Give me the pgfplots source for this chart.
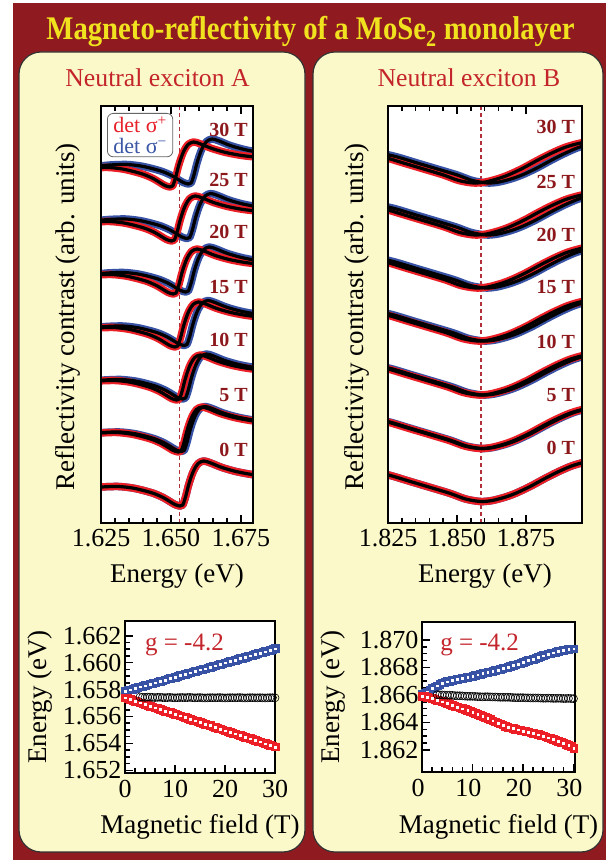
\documentclass[border=0pt]{standalone}
\usepackage{graphicx}
\usepackage{pgfplots}
\usepackage{pgfplotstable}
\pgfplotsset{compat=1.18}
\usepackage{fontspec}
\setmainfont{Liberation Serif}

\definecolor{framered}{RGB}{143,27,32}
\definecolor{titleyellow}{RGB}{240,226,30}
\definecolor{panelfill}{RGB}{251,248,202}
\definecolor{headred}{RGB}{196,37,44}
\definecolor{fieldred}{RGB}{140,24,28}
\definecolor{datared}{RGB}{236,30,38}
\definecolor{datablue}{RGB}{55,82,165}
\definecolor{dashred}{RGB}{178,48,58}
\definecolor{legred}{RGB}{232,32,42}
\definecolor{legblue}{RGB}{59,87,166}

\newcommand{\fs}[1]{\fontsize{#1}{#1}\selectfont}

% ---------- exciton A spectra: columns Er ur (sigma+), Eb ub (sigma-) ----------
\pgfplotstableread{
Er ur Eb ub
1.6202 34.5 1.6202 34.5
1.6252 36 1.6252 36
1.6312 36.5 1.6312 36.5
1.6362 35 1.6362 35
1.6402 32.5 1.6402 32.5
1.6439 29.5 1.6439 29.5
1.6472 25.5 1.6472 25.5
1.6496 21.5 1.6496 21.5
1.6514 18.5 1.6514 18.5
1.6532 17 1.6532 17
1.6542 18 1.6542 18
1.6552 26 1.6552 26
1.6562 37 1.6562 37
1.6572 46 1.6572 46
1.6582 53 1.6582 53
1.6597 59.5 1.6597 59.5
1.6617 62 1.6617 62
1.6642 60 1.6642 60
1.6682 55.5 1.6682 55.5
1.6732 51.5 1.6732 51.5
1.6789 48.5 1.6789 48.5
1.6852 46.5 1.6852 46.5
}\Azero
\pgfplotstableread{
Er ur Eb ub
1.6196 88.5 1.6207 89
1.6246 90 1.6257 90.5
1.6306 90.5 1.6317 91
1.6356 89 1.6367 89.5
1.6396 86.5 1.6407 87
1.6433 83.5 1.6444 84
1.6466 79.5 1.6477 80
1.6490 75.5 1.6501 76
1.6508 72.5 1.6519 73
1.6526 71 1.6537 71.5
1.6536 72 1.6547 72.5
1.6546 80 1.6557 80.5
1.6556 91 1.6567 91.5
1.6566 100 1.6577 100.5
1.6576 107 1.6587 107.5
1.6591 113.5 1.6602 114
1.6611 116 1.6622 116.5
1.6636 114 1.6647 114.5
1.6676 109.5 1.6687 110
1.6726 105.5 1.6737 106
1.6783 102.5 1.6794 103
1.6846 100.5 1.6857 101
}\Afive
\pgfplotstableread{
Er ur Eb ub
1.6190 140.5 1.6212 141.5
1.6240 142 1.6262 143
1.6300 142.5 1.6322 143.5
1.6350 141 1.6372 142
1.6390 138.5 1.6412 139.5
1.6427 135.5 1.6449 136.5
1.6460 131.5 1.6482 132.5
1.6484 127.5 1.6506 128.5
1.6502 124.5 1.6524 125.5
1.6520 123 1.6542 124
1.6530 124 1.6552 125
1.6540 132 1.6562 133
1.6550 143 1.6572 144
1.6560 152 1.6582 153
1.6570 159 1.6592 160
1.6585 165.5 1.6607 166.5
1.6605 168 1.6627 169
1.6630 166 1.6652 167
1.6670 161.5 1.6692 162.5
1.6720 157.5 1.6742 158.5
1.6777 154.5 1.6799 155.5
1.6840 152.5 1.6862 153.5
}\Aten
\pgfplotstableread{
Er ur Eb ub
1.6184 193.5 1.6217 195
1.6234 195 1.6267 196.5
1.6294 195.5 1.6327 197
1.6344 194 1.6377 195.5
1.6384 191.5 1.6417 193
1.6421 188.5 1.6454 190
1.6454 184.5 1.6487 186
1.6478 180.5 1.6511 182
1.6496 177.5 1.6529 179
1.6514 176 1.6547 177.5
1.6524 177 1.6557 178.5
1.6534 185 1.6567 186.5
1.6544 196 1.6577 197.5
1.6554 205 1.6587 206.5
1.6564 212 1.6597 213.5
1.6579 218.5 1.6612 220
1.6599 221 1.6632 222.5
1.6624 219 1.6657 220.5
1.6664 214.5 1.6697 216
1.6714 210.5 1.6747 212
1.6771 207.5 1.6804 209
1.6834 205.5 1.6867 207
}\Afifteen
\pgfplotstableread{
Er ur Eb ub
1.6178 246.5 1.6222 248.5
1.6228 248 1.6272 250
1.6288 248.5 1.6332 250.5
1.6338 247 1.6382 249
1.6378 244.5 1.6422 246.5
1.6415 241.5 1.6459 243.5
1.6448 237.5 1.6492 239.5
1.6472 233.5 1.6516 235.5
1.6490 230.5 1.6534 232.5
1.6508 229 1.6552 231
1.6518 230 1.6562 232
1.6528 238 1.6572 240
1.6538 249 1.6582 251
1.6548 258 1.6592 260
1.6558 265 1.6602 267
1.6573 271.5 1.6617 273.5
1.6593 274 1.6637 276
1.6618 272 1.6662 274
1.6658 267.5 1.6702 269.5
1.6708 263.5 1.6752 265.5
1.6765 260.5 1.6809 262.5
1.6828 258.5 1.6872 260.5
}\Atwenty
\pgfplotstableread{
Er ur Eb ub
1.6172 299.5 1.6227 302
1.6222 301 1.6277 303.5
1.6282 301.5 1.6337 304
1.6332 300 1.6387 302.5
1.6372 297.5 1.6427 300
1.6409 294.5 1.6464 297
1.6442 290.5 1.6497 293
1.6466 286.5 1.6521 289
1.6484 283.5 1.6539 286
1.6502 282 1.6557 284.5
1.6512 283 1.6567 285.5
1.6522 291 1.6577 293.5
1.6532 302 1.6587 304.5
1.6542 311 1.6597 313.5
1.6552 318 1.6607 320.5
1.6567 324.5 1.6622 327
1.6587 327 1.6642 329.5
1.6612 325 1.6667 327.5
1.6652 320.5 1.6707 323
1.6702 316.5 1.6757 319
1.6759 313.5 1.6814 316
1.6822 311.5 1.6877 314
}\Atwentyfive
\pgfplotstableread{
Er ur Eb ub
1.6166 353.5 1.6232 356.5
1.6216 355 1.6282 358
1.6276 355.5 1.6342 358.5
1.6326 354 1.6392 357
1.6366 351.5 1.6432 354.5
1.6403 348.5 1.6469 351.5
1.6436 344.5 1.6502 347.5
1.6460 340.5 1.6526 343.5
1.6478 337.5 1.6544 340.5
1.6496 336 1.6562 339
1.6506 337 1.6572 340
1.6516 345 1.6582 348
1.6526 356 1.6592 359
1.6536 365 1.6602 368
1.6546 372 1.6612 375
1.6561 378.5 1.6627 381.5
1.6581 381 1.6647 384
1.6606 379 1.6672 382
1.6646 374.5 1.6712 377.5
1.6696 370.5 1.6762 373.5
1.6753 367.5 1.6819 370.5
1.6816 365.5 1.6882 368.5
}\Athirty

% ---------- exciton B spectra: columns Er (sigma+), Eb (sigma-), u ----------
\pgfplotstableread{
Er Eb u
1.8205 1.8205 51
1.8259 1.8259 47.5
1.8331 1.8331 41.5
1.8404 1.8404 35.5
1.8476 1.8476 29.5
1.8531 1.8531 24
1.8585 1.8585 21.5
1.8628 1.8628 22.5
1.8676 1.8676 26
1.8715 1.8715 30
1.8765 1.8765 36.5
1.8815 1.8815 44
1.8865 1.8865 51
1.8915 1.8915 57
1.8965 1.8965 61
1.9015 1.9015 63.5
}\Bzero
\pgfplotstableread{
Er Eb u
1.8201 1.8209 104
1.8255 1.8263 100.5
1.8327 1.8335 94.5
1.8400 1.8408 88.5
1.8472 1.8480 82.5
1.8527 1.8535 77
1.8581 1.8589 74.5
1.8624 1.8632 75.5
1.8672 1.8680 79
1.8711 1.8719 83
1.8761 1.8769 89.5
1.8811 1.8819 97
1.8861 1.8869 104
1.8911 1.8919 110
1.8961 1.8969 114
1.9011 1.9019 116.5
}\Bfive
\pgfplotstableread{
Er Eb u
1.8197 1.8213 157.5
1.8251 1.8267 154
1.8323 1.8339 148
1.8396 1.8412 142
1.8468 1.8484 136
1.8523 1.8539 130.5
1.8577 1.8593 128
1.8620 1.8636 129
1.8668 1.8684 132.5
1.8707 1.8723 136.5
1.8757 1.8773 143
1.8807 1.8823 150.5
1.8857 1.8873 157.5
1.8907 1.8923 163.5
1.8957 1.8973 167.5
1.9007 1.9023 170
}\Bten
\pgfplotstableread{
Er Eb u
1.8193 1.8217 211.5
1.8247 1.8271 208
1.8319 1.8343 202
1.8392 1.8416 196
1.8464 1.8488 190
1.8519 1.8543 184.5
1.8573 1.8597 182
1.8616 1.8640 183
1.8664 1.8688 186.5
1.8703 1.8727 190.5
1.8753 1.8777 197
1.8803 1.8827 204.5
1.8853 1.8877 211.5
1.8903 1.8927 217.5
1.8953 1.8977 221.5
1.9003 1.9027 224
}\Bfifteen
\pgfplotstableread{
Er Eb u
1.8188 1.8222 264.5
1.8242 1.8276 261
1.8314 1.8348 255
1.8387 1.8421 249
1.8459 1.8493 243
1.8514 1.8548 237.5
1.8568 1.8602 235
1.8611 1.8645 236
1.8659 1.8693 239.5
1.8698 1.8732 243.5
1.8748 1.8782 250
1.8798 1.8832 257.5
1.8848 1.8882 264.5
1.8898 1.8932 270.5
1.8948 1.8982 274.5
1.8998 1.9032 277
}\Btwenty
\pgfplotstableread{
Er Eb u
1.8184 1.8226 317.5
1.8238 1.8280 314
1.8310 1.8352 308
1.8383 1.8425 302
1.8455 1.8497 296
1.8510 1.8552 290.5
1.8564 1.8606 288
1.8607 1.8649 289
1.8655 1.8697 292.5
1.8694 1.8736 296.5
1.8744 1.8786 303
1.8794 1.8836 310.5
1.8844 1.8886 317.5
1.8894 1.8936 323.5
1.8944 1.8986 327.5
1.8994 1.9036 330
}\Btwentyfive
\pgfplotstableread{
Er Eb u
1.8180 1.8230 369.5
1.8234 1.8284 366
1.8306 1.8356 360
1.8379 1.8429 354
1.8451 1.8501 348
1.8506 1.8556 342.5
1.8560 1.8610 340
1.8603 1.8653 341
1.8651 1.8701 344.5
1.8690 1.8740 348.5
1.8740 1.8790 355
1.8790 1.8840 362.5
1.8840 1.8890 369.5
1.8890 1.8940 375.5
1.8940 1.8990 379.5
1.8990 1.9040 382
}\Bthirty

% ---------- peak energies versus magnetic field (sigma-, sigma+) ----------
\pgfplotstableread{
B Eb Er
0 1.65790 1.65740
0.5 1.65796 1.65735
1 1.65801 1.65728
1.5 1.65805 1.65721
2 1.65811 1.65716
2.5 1.65817 1.65710
3 1.65822 1.65703
3.5 1.65826 1.65697
4 1.65831 1.65692
4.5 1.65838 1.65684
5 1.65843 1.65678
5.5 1.65847 1.65673
6 1.65852 1.65667
6.5 1.65859 1.65660
7 1.65864 1.65654
7.5 1.65868 1.65648
8 1.65873 1.65642
8.5 1.65880 1.65637
9 1.65885 1.65631
9.5 1.65889 1.65624
10 1.65894 1.65618
10.5 1.65901 1.65613
11 1.65906 1.65607
11.5 1.65910 1.65600
12 1.65916 1.65594
12.5 1.65921 1.65589
13 1.65926 1.65582
13.5 1.65932 1.65575
14 1.65937 1.65569
14.5 1.65942 1.65564
15 1.65948 1.65558
15.5 1.65952 1.65551
16 1.65957 1.65545
16.5 1.65964 1.65540
17 1.65969 1.65534
17.5 1.65973 1.65526
18 1.65979 1.65520
18.5 1.65985 1.65515
19 1.65990 1.65509
19.5 1.65994 1.65502
20 1.66000 1.65496
20.5 1.66006 1.65491
21 1.66011 1.65485
21.5 1.66015 1.65478
22 1.66021 1.65473
22.5 1.66027 1.65466
23 1.66032 1.65460
23.5 1.66036 1.65454
24 1.66042 1.65448
24.5 1.66048 1.65443
25 1.66053 1.65437
25.5 1.66057 1.65430
26 1.66063 1.65424
26.5 1.66069 1.65419
27 1.66074 1.65413
27.5 1.66078 1.65406
28 1.66084 1.65400
28.5 1.66090 1.65394
29 1.66095 1.65387
29.5 1.66099 1.65382
30 1.66106 1.65375
}\ZA
\pgfplotstableread{
B E
3 1.65745
3.5 1.65743
4 1.65742
4.5 1.65744
5 1.65744
5.5 1.65742
6 1.65741
6.5 1.65742
7 1.65743
7.5 1.65741
8 1.65740
8.5 1.65741
9 1.65742
9.5 1.65740
10 1.65739
10.5 1.65740
11 1.65741
11.5 1.65741
12 1.65740
12.5 1.65741
13 1.65742
13.5 1.65740
14 1.65739
14.5 1.65740
15 1.65741
15.5 1.65739
16 1.65738
16.5 1.65739
17 1.65740
17.5 1.65740
18 1.65739
18.5 1.65740
19 1.65741
19.5 1.65739
20 1.65738
20.5 1.65739
21 1.65740
21.5 1.65740
22 1.65739
22.5 1.65740
23 1.65741
23.5 1.65739
24 1.65738
24.5 1.65739
25 1.65740
25.5 1.65740
26 1.65739
26.5 1.65739
27 1.65740
27.5 1.65739
28 1.65738
28.5 1.65739
29 1.65740
29.5 1.65740
30 1.65739
}\ZAavg
\pgfplotstableread{
B Eb Er
0 1.86610 1.86592
0.5 1.86617 1.86590
1 1.86625 1.86586
1.5 1.86637 1.86581
2 1.86648 1.86576
2.5 1.86658 1.86569
3 1.86668 1.86563
3.5 1.86679 1.86558
4 1.86688 1.86553
4.5 1.86694 1.86547
5 1.86698 1.86540
5.5 1.86702 1.86533
6 1.86706 1.86527
6.5 1.86710 1.86520
7 1.86714 1.86514
7.5 1.86718 1.86508
8 1.86722 1.86502
8.5 1.86726 1.86497
9 1.86729 1.86491
9.5 1.86733 1.86484
10 1.86738 1.86476
10.5 1.86743 1.86469
11 1.86748 1.86461
11.5 1.86752 1.86453
12 1.86757 1.86445
12.5 1.86762 1.86438
13 1.86766 1.86430
13.5 1.86770 1.86422
14 1.86774 1.86414
14.5 1.86779 1.86406
15 1.86783 1.86398
15.5 1.86788 1.86391
16 1.86793 1.86383
16.5 1.86798 1.86375
17 1.86803 1.86367
17.5 1.86809 1.86362
18 1.86815 1.86357
18.5 1.86820 1.86352
19 1.86826 1.86348
19.5 1.86832 1.86344
20 1.86839 1.86340
20.5 1.86845 1.86336
21 1.86851 1.86332
21.5 1.86856 1.86327
22 1.86862 1.86322
22.5 1.86868 1.86318
23 1.86874 1.86313
23.5 1.86881 1.86308
24 1.86887 1.86303
24.5 1.86893 1.86297
25 1.86899 1.86290
25.5 1.86904 1.86284
26 1.86908 1.86278
26.5 1.86913 1.86272
27 1.86917 1.86265
27.5 1.86922 1.86259
28 1.86926 1.86252
28.5 1.86930 1.86244
29 1.86933 1.86235
29.5 1.86935 1.86226
30 1.86936 1.86215
}\ZB
\pgfplotstableread{
B E
3 1.86602
3.5 1.86601
4 1.86600
4.5 1.86599
5 1.86598
5.5 1.86598
6 1.86597
6.5 1.86595
7 1.86594
7.5 1.86594
8 1.86593
8.5 1.86591
9 1.86590
9.5 1.86590
10 1.86590
10.5 1.86589
11 1.86588
11.5 1.86587
12 1.86586
12.5 1.86587
13 1.86587
13.5 1.86586
14 1.86585
14.5 1.86585
15 1.86584
15.5 1.86583
16 1.86583
16.5 1.86583
17 1.86583
17.5 1.86582
18 1.86581
18.5 1.86580
19 1.86580
19.5 1.86580
20 1.86580
20.5 1.86579
21 1.86579
21.5 1.86578
22 1.86578
22.5 1.86578
23 1.86578
23.5 1.86577
24 1.86576
24.5 1.86576
25 1.86577
25.5 1.86576
26 1.86575
26.5 1.86575
27 1.86576
27.5 1.86575
28 1.86574
28.5 1.86574
29 1.86575
29.5 1.86574
30 1.86573
}\ZBavg

\pgfplotsset{
  frame/.style={scale only axis, axis on top,
    axis background/.style={fill=white},
    axis line style={line width=2.6pt},
    tick style={line width=1.5pt, black},
    major tick length=8pt, minor tick length=5pt,
    tick label style={font=\fs{26}},
    label style={font=\fs{27}},
    scaled ticks=false},
  spec/.style={frame,
    ymin=0, ymax=417, ytick=\empty, minor ytick={0,13.9,...,417},
    ytick pos=left, minor x tick num=4,
    xticklabel style={yshift=-3pt},
    xlabel={Energy (eV)},
    xlabel style={at={(axis description cs:0.5,-0.1415)}, anchor=base},
    ylabel={Reflectivity contrast (arb. units)}},
  zee/.style={frame, tick pos=left,
    xtick={0,10,20,30}, xticklabels={0,10,20,30},
    minor x tick num=4, minor y tick num=3,
    xticklabel style={yshift=-4pt},
    xlabel={Magnetic field (T)}, ylabel={Energy (eV)}},
  bandR/.style={draw=datared, line width=7.5pt, smooth, tension=0.5, no markers, line join=round},
  bandB/.style={draw=datablue, line width=7.5pt, smooth, tension=0.5, no markers, line join=round},
  fitline/.style={draw=black, line width=3.2pt, smooth, tension=0.5, no markers, line join=round},
  sqR/.style={only marks, mark=square*, mark size=3.8pt, mark options={draw=datared, fill=datared, line width=0.3pt}},
  sqB/.style={only marks, mark=square*, mark size=3.8pt, mark options={draw=datablue, fill=datablue, line width=0.3pt}},
  dot/.style={only marks, each nth point=2, mark=square*, mark size=0.85pt, mark options={draw=white, fill=white, line width=0.1pt}},
  avg/.style={only marks, mark=o, mark size=4pt, mark options={draw=black, line width=0.6pt}},
  dashmark/.style={dashred, line width=1.1pt, dash pattern=on 4pt off 3pt},
}
\tikzset{fieldlab/.style={anchor=east, inner sep=0pt, text=fieldred, font=\fs{20}\bfseries}}

\begin{document}
\begin{tikzpicture}[x=1pt,y=1pt]
\fill[white] (0,0) rectangle (610,863);
\useasboundingbox (0,0) rectangle (610,863);
\fill[framered] (13,3) rectangle (606,860);
\draw[rounded corners=22pt, fill=panelfill, draw=black!80, line width=1.2pt] (19,11) rectangle (305,811);
\draw[rounded corners=22pt, fill=panelfill, draw=black!80, line width=1.2pt] (313,11) rectangle (603,811);

\node[anchor=base, text=titleyellow, font=\fs{33}\bfseries, inner sep=0pt] at (310.5,823)
  {\scalebox{0.87}[1]{Magneto-reflectivity of a MoSe\textsubscript{2} monolayer}};
\node[anchor=base, text=headred, font=\fs{25.7}, inner sep=0pt] at (157.5,776) {Neutral exciton A};
\node[anchor=base, text=headred, font=\fs{25.7}, inner sep=0pt] at (469,776) {Neutral exciton B};

% ---- exciton A spectra ----
\begin{axis}[spec, at={(101pt,340pt)}, anchor=south west, width=152pt, height=417pt,
  xmin=1.625, xmax=1.6793, xtick={1.625,1.650,1.675}, xticklabels={1.625,1.650,1.675},
  ylabel style={at={(axis description cs:-0.217,0.494)}, anchor=center}]
\addplot[dashmark] coordinates {(1.6532,0) (1.6532,417)};
\addplot[bandB] table[x=Eb,y=ub]{\Azero};
\addplot[bandB] table[x=Eb,y=ub]{\Afive};
\addplot[bandB] table[x=Eb,y=ub]{\Aten};
\addplot[bandB] table[x=Eb,y=ub]{\Afifteen};
\addplot[bandB] table[x=Eb,y=ub]{\Atwenty};
\addplot[bandB] table[x=Eb,y=ub]{\Atwentyfive};
\addplot[bandB] table[x=Eb,y=ub]{\Athirty};
\addplot[bandR] table[x=Er,y=ur]{\Azero};
\addplot[bandR] table[x=Er,y=ur]{\Afive};
\addplot[bandR] table[x=Er,y=ur]{\Aten};
\addplot[bandR] table[x=Er,y=ur]{\Afifteen};
\addplot[bandR] table[x=Er,y=ur]{\Atwenty};
\addplot[bandR] table[x=Er,y=ur]{\Atwentyfive};
\addplot[bandR] table[x=Er,y=ur]{\Athirty};
\addplot[fitline] table[x=Eb,y=ub]{\Azero};
\addplot[fitline] table[x=Eb,y=ub]{\Afive};
\addplot[fitline] table[x=Eb,y=ub]{\Aten};
\addplot[fitline] table[x=Eb,y=ub]{\Afifteen};
\addplot[fitline] table[x=Eb,y=ub]{\Atwenty};
\addplot[fitline] table[x=Eb,y=ub]{\Atwentyfive};
\addplot[fitline] table[x=Eb,y=ub]{\Athirty};
\addplot[fitline] table[x=Er,y=ur]{\Afive};
\addplot[fitline] table[x=Er,y=ur]{\Aten};
\addplot[fitline] table[x=Er,y=ur]{\Afifteen};
\addplot[fitline] table[x=Er,y=ur]{\Atwenty};
\addplot[fitline] table[x=Er,y=ur]{\Atwentyfive};
\addplot[fitline] table[x=Er,y=ur]{\Athirty};
\node[fieldlab] at (axis cs:1.6775,393) {30 T};
\node[fieldlab] at (axis cs:1.6775,343) {25 T};
\node[fieldlab] at (axis cs:1.6775,291) {20 T};
\node[fieldlab] at (axis cs:1.6775,236) {15 T};
\node[fieldlab] at (axis cs:1.6775,183) {10 T};
\node[fieldlab] at (axis cs:1.6775,128) {5 T};
\node[fieldlab] at (axis cs:1.6775,73) {0 T};
\end{axis}

\node[anchor=north west, draw=black!60, fill=white, rounded corners=6pt, line width=0.8pt,
  inner xsep=6pt, inner ysep=3pt, align=left, font=\fs{22}] at (107,750)
  {\textcolor{legred}{det σ\textsuperscript{+}}\\[-1pt]\textcolor{legblue}{det σ\textsuperscript{−}}};

% ---- exciton B spectra ----
\begin{axis}[spec, at={(388pt,340pt)}, anchor=south west, width=194pt, height=417pt,
  xmin=1.825, xmax=1.8953, xtick={1.825,1.850,1.875}, xticklabels={1.825,1.850,1.875},
  ylabel style={at={(axis description cs:-0.16,0.494)}, anchor=center}]
\addplot[dashmark] coordinates {(1.8587,0) (1.8587,417)};
\addplot[bandB] table[x=Eb,y=u]{\Bzero};
\addplot[bandB] table[x=Eb,y=u]{\Bfive};
\addplot[bandB] table[x=Eb,y=u]{\Bten};
\addplot[bandB] table[x=Eb,y=u]{\Bfifteen};
\addplot[bandB] table[x=Eb,y=u]{\Btwenty};
\addplot[bandB] table[x=Eb,y=u]{\Btwentyfive};
\addplot[bandB] table[x=Eb,y=u]{\Bthirty};
\addplot[bandR] table[x=Er,y=u]{\Bzero};
\addplot[bandR] table[x=Er,y=u]{\Bfive};
\addplot[bandR] table[x=Er,y=u]{\Bten};
\addplot[bandR] table[x=Er,y=u]{\Bfifteen};
\addplot[bandR] table[x=Er,y=u]{\Btwenty};
\addplot[bandR] table[x=Er,y=u]{\Btwentyfive};
\addplot[bandR] table[x=Er,y=u]{\Bthirty};
\addplot[fitline] table[x=Eb,y=u]{\Bzero};
\addplot[fitline] table[x=Eb,y=u]{\Bfive};
\addplot[fitline] table[x=Eb,y=u]{\Bten};
\addplot[fitline] table[x=Eb,y=u]{\Bfifteen};
\addplot[fitline] table[x=Eb,y=u]{\Btwenty};
\addplot[fitline] table[x=Eb,y=u]{\Btwentyfive};
\addplot[fitline] table[x=Eb,y=u]{\Bthirty};
\addplot[fitline] table[x=Er,y=u]{\Bfive};
\addplot[fitline] table[x=Er,y=u]{\Bten};
\addplot[fitline] table[x=Er,y=u]{\Bfifteen};
\addplot[fitline] table[x=Er,y=u]{\Btwenty};
\addplot[fitline] table[x=Er,y=u]{\Btwentyfive};
\addplot[fitline] table[x=Er,y=u]{\Bthirty};
\node[fieldlab] at (axis cs:1.8928,396) {30 T};
\node[fieldlab] at (axis cs:1.8928,341) {25 T};
\node[fieldlab] at (axis cs:1.8928,288) {20 T};
\node[fieldlab] at (axis cs:1.8928,236) {15 T};
\node[fieldlab] at (axis cs:1.8928,181) {10 T};
\node[fieldlab] at (axis cs:1.8928,128) {5 T};
\node[fieldlab] at (axis cs:1.8928,75) {0 T};
\end{axis}

% ---- exciton A: energies versus field ----
\begin{axis}[zee, at={(125pt,90pt)}, anchor=south west, width=150pt, height=152pt,
  xmin=0, xmax=30, ymin=1.6518, ymax=1.6631,
  ytick={1.652,1.654,1.656,1.658,1.660,1.662},
  yticklabels={1.652,1.654,1.656,1.658,1.660,1.662},
  xlabel style={at={(axis description cs:0.5,-0.401)}, anchor=base},
  ylabel style={at={(axis description cs:-0.567,0.5)}, anchor=center}]
\addplot[sqB] table[x=B,y=Eb]{\ZA};
\addplot[dot] table[x=B,y=Eb]{\ZA};
\addplot[sqR] table[x=B,y=Er]{\ZA};
\addplot[dot] table[x=B,y=Er]{\ZA};
\addplot[avg] table[x=B,y=E]{\ZAavg};
\node[anchor=west, inner sep=0pt, text=headred, font=\fs{25}] at (rel axis cs:0.133,0.842) {g = -4.2};
\end{axis}

% ---- exciton B: energies versus field ----
\begin{axis}[zee, at={(422pt,91pt)}, anchor=south west, width=153pt, height=150pt,
  xmin=0, xmax=30.3, ymin=1.8604, ymax=1.8713,
  ytick={1.862,1.864,1.866,1.868,1.870},
  yticklabels={1.862,1.864,1.866,1.868,1.870},
  xticklabel style={xshift=-4pt},
  xlabel style={at={(axis description cs:0.5,-0.407)}, anchor=base},
  ylabel style={at={(axis description cs:-0.582,0.5)}, anchor=center}]
\addplot[sqB] table[x=B,y=Eb]{\ZB};
\addplot[dot] table[x=B,y=Eb]{\ZB};
\addplot[sqR] table[x=B,y=Er]{\ZB};
\addplot[dot] table[x=B,y=Er]{\ZB};
\addplot[avg] table[x=B,y=E]{\ZBavg};
\node[anchor=west, inner sep=0pt, text=headred, font=\fs{25}] at (rel axis cs:0.118,0.847) {g = -4.2};
\end{axis}
\end{tikzpicture}
\end{document}
